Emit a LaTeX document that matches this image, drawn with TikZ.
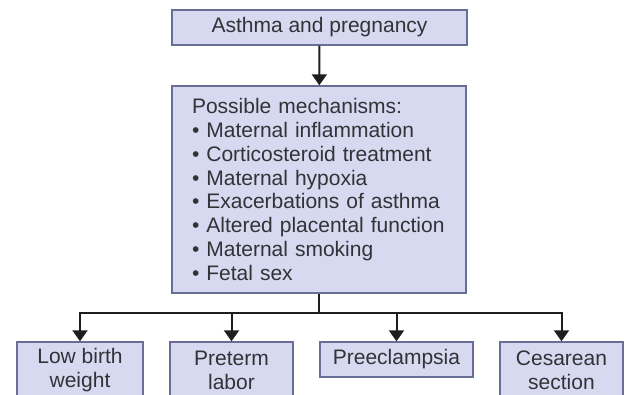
\documentclass[tikz,border=0pt]{standalone}
\usepackage{fontspec}
\setmainfont{Liberation Sans}
\usetikzlibrary{arrows.meta}
\definecolor{boxfill}{RGB}{214,217,240}
\definecolor{boxline}{RGB}{105,110,150}
\definecolor{ink}{RGB}{50,50,55}
\definecolor{wire}{RGB}{30,30,30}
\begin{document}
\begin{tikzpicture}[x=1pt,y=-1pt,
  box/.style={draw=boxline, fill=boxfill, line width=1.4pt, text=ink,
    font=\fontsize{21}{23.8}\selectfont, inner sep=0pt, align=center},
  wirestyle/.style={draw=wire, line width=2pt},
  arr/.style={wirestyle, -{Triangle[width=15pt,length=11pt]}}]
\useasboundingbox (0,0) rectangle (625,395);

% title box
\node[box, minimum width=295pt, minimum height=35pt] (top) at (319.5,27.5)
  {Asthma and pregnancy};

% mechanisms box
\node[box, align=left, text width=254pt, inner xsep=20pt,
      minimum height=207pt] (mech) at (319,189.5)
  {Possible mechanisms:\\
   • Maternal inflammation\\
   • Corticosteroid treatment\\
   • Maternal hypoxia\\
   • Exacerbations of asthma\\
   • Altered placental function\\
   • Maternal smoking\\
   • Fetal sex};

% outcome boxes
\node[box, minimum width=126pt, minimum height=56pt] (lbw) at (80,370)
  {Low birth\\weight};
\node[box, minimum width=123pt, minimum height=56pt] (ptl) at (231.5,370)
  {Preterm\\labor};
\node[box, minimum width=153pt, minimum height=35pt] (pre) at (396.5,359.5)
  {Preeclampsia};
\node[box, minimum width=123pt, minimum height=56pt] (ces) at (561.5,370)
  {Cesarean\\section};

% connectors
\draw[arr] (top) -- (mech);
\coordinate (split) at (319,313);
\draw[wirestyle] (mech.south) -- (split);
\draw[wirestyle, line cap=rect] (lbw.north |- split) -- (ces.north |- split);
\foreach \n in {lbw,ptl,pre,ces}
  \draw[arr] (\n.north |- split) -- (\n.north);
\end{tikzpicture}
\end{document}
